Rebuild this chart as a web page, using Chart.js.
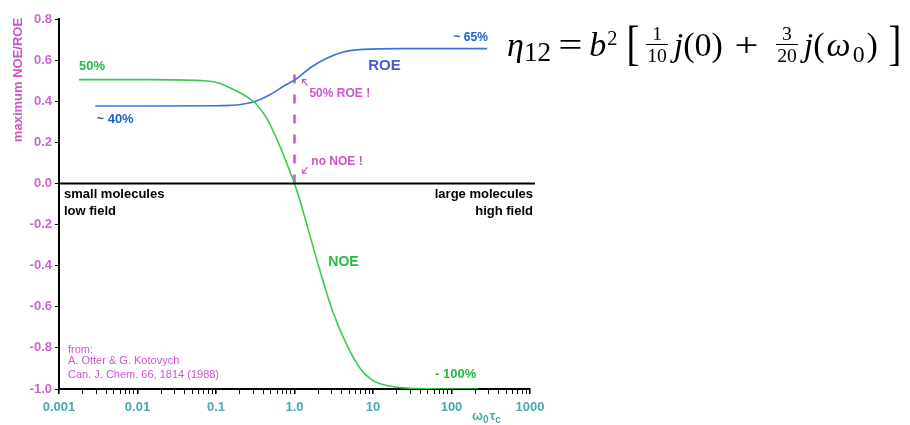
<!DOCTYPE html>
<html>
<head>
<meta charset="utf-8">
<script src="https://cdn.jsdelivr.net/npm/chart.js@4.4.1/dist/chart.umd.min.js"></script>
<style>
  html, body { margin: 0; padding: 0; background: #fff; }
  #wrap { position: relative; width: 910px; height: 425px; overflow: hidden; }
  #c { position: absolute; left: 0; top: 0; }
  #eq {
    position: absolute; left: 507px; top: 16px;
    font-family: "Liberation Serif", "DejaVu Serif", serif;
    font-size: 34px; color: #000; white-space: nowrap; line-height: 1;
  }
  #eq span { display: inline-block; }
  #eq .it { font-style: italic; }
  #eq .lo { font-size: 0.8em; position: relative; top: 0.18em; }
  #eq .sup { font-size: 0.6em; position: relative; top: -0.55em; margin-left: 1px; margin-right: 0.35em; }
  #eq .op { margin: 0 0.28em; transform: scaleX(1.25); }
  #eq .op.m { margin: 0 0.42em; }
  #eq .br { font-size: 1.42em; position: relative; top: 0.06em; transform: scaleX(0.8); }
  #eq .br.r { margin-left: 0.2em; }
  #eq .frac { vertical-align: middle; text-align: center; font-size: 0.58em; margin: 0 0.3em 0 0.28em; position: relative; top: -0.2em; }
  #eq .frac span { display: block; padding: 0 1px; line-height: 1.05; }
  #eq .frac .num { border-bottom: 1px solid #000; }
  #eq .sm { font-size: 0.7em; position: relative; top: 0.25em; margin-right: 0.08em; }
  #eq .w { margin: 0 0.06em; }
</style>
</head>
<body>
<div id="wrap">
  <canvas id="c" width="910" height="425"></canvas>
  <div id="eq"><span class="it">η</span><span class="lo">12</span><span class="op">=</span><span class="it">b</span><span class="sup">2</span><span class="br">[</span><span class="frac"><span class="num">1</span><span>10</span></span><span class="it">j</span>(0)<span class="op m">+</span><span class="frac"><span class="num">3</span><span>20</span></span><span class="it">j</span>(<span class="it w">ω</span><span class="sm">0</span>)<span class="br r">]</span></div>
</div>
<script>
// NOE curve (ω0·τc, maximum enhancement)
const noeX = [0.0018, 0.015, 0.064, 0.105, 0.167, 0.252, 0.319, 0.453, 0.662, 0.813, 1.0, 1.19, 1.46, 2.13, 3.12, 4.70, 6.87, 9.2, 12.3, 19.1, 39.8, 100, 215];
const noeY = [0.505, 0.505, 0.500, 0.490, 0.457, 0.420, 0.390, 0.310, 0.175, 0.090, 0.0, -0.090, -0.210, -0.430, -0.630, -0.790, -0.900, -0.950, -0.975, -0.990, -0.998, -1.0, -1.0];

// ROE curve
const roeX = [0.0029, 0.02, 0.1, 0.15, 0.206, 0.319, 0.494, 0.723, 1.03, 1.59, 2.62, 4.18, 7.5, 22, 80, 285];
const roeY = [0.377, 0.377, 0.378, 0.380, 0.384, 0.400, 0.433, 0.473, 0.506, 0.563, 0.610, 0.639, 0.652, 0.656, 0.656, 0.656];

// marker at ω0·τc = 1
const markX = [1, 1];
const markY = [0, 0.57];

// axis labels
const xTickValues = [0.001, 0.01, 0.1, 1, 10, 100, 1000];
const xTickLabels = ["0.001", "0.01", "0.1", "1.0", "10", "100", "1000"];
const yTickValues = [-1.0, -0.8, -0.6, -0.4, -0.2, 0.0, 0.2, 0.4, 0.6, 0.8];
const yTickLabels = ["-1.0", "-0.8", "-0.6", "-0.4", "-0.2", "0.0", "0.2", "0.4", "0.6", "0.8"];

const MAGENTA = '#cc55cc';
const GREEN = '#3ec850';
const BLUE = '#3f72dc';
const TEAL = '#4aa9ab';
const SANS = '"Liberation Sans", Arial, sans-serif';

const pts = (xs, ys) => xs.map((x, i) => ({ x, y: ys[i] }));

const annotate = {
  id: 'annotate',
  afterDatasetsDraw(chart) {
    const { ctx, chartArea: a, scales: { x, y } } = chart;
    const X = v => x.getPixelForValue(v);
    const Y = v => y.getPixelForValue(v);
    ctx.save();

    // zero line
    ctx.strokeStyle = '#000';
    ctx.lineWidth = 2;
    ctx.beginPath();
    ctx.moveTo(a.left, Y(0));
    ctx.lineTo(a.right + 5, Y(0));
    ctx.stroke();

    const text = (s, px, py, color, font, align) => {
      ctx.fillStyle = color;
      ctx.font = font;
      ctx.textAlign = align || 'left';
      ctx.textBaseline = 'middle';
      ctx.fillText(s, px, py);
    };

    text('50%', X(0.0018), Y(0.57), '#22bb44', 'bold 13px ' + SANS);
    text('~ 40%', X(0.003), Y(0.31), '#1a5fd0', 'bold 13px ' + SANS);
    text('~ 65%', X(290), Y(0.71), '#1a5fd0', 'bold 12px ' + SANS, 'right');
    text('ROE', X(8.7), Y(0.574), '#4a5ad0', 'bold 15px ' + SANS);
    text('50% ROE !', X(1.55), Y(0.438), MAGENTA, 'bold 12px ' + SANS);
    text('no NOE !', X(1.64), Y(0.107), MAGENTA, 'bold 12px ' + SANS);
    text('NOE', X(2.7), Y(-0.385), '#22bb44', 'bold 14px ' + SANS);
    text('- 100%', X(61.7), Y(-0.93), '#22bb44', 'bold 13px ' + SANS);

    text('small molecules', a.left + 5, Y(-0.054), '#000', 'bold 13px ' + SANS);
    text('low field', a.left + 5, Y(-0.136), '#000', 'bold 13px ' + SANS);
    text('large molecules', a.right + 3, Y(-0.054), '#000', 'bold 13px ' + SANS, 'right');
    text('high field', a.right + 3, Y(-0.136), '#000', 'bold 13px ' + SANS, 'right');

    text('from:', a.left + 9, Y(-0.808), MAGENTA, '11px ' + SANS);
    text('A. Otter & G. Kotovych', a.left + 9, Y(-0.866), MAGENTA, '11px ' + SANS);
    text('Can. J. Chem. 66, 1814 (1988)', a.left + 9, Y(-0.93), MAGENTA, '11px ' + SANS);

    // small arrows pointing at the marker line
    ctx.strokeStyle = MAGENTA;
    ctx.lineWidth = 1.2;
    const mx = X(1) + 8;
    let ty = Y(0.505);
    ctx.beginPath();
    ctx.moveTo(mx + 5, ty + 6); ctx.lineTo(mx, ty);
    ctx.moveTo(mx, ty + 4); ctx.lineTo(mx, ty); ctx.lineTo(mx + 4, ty);
    ctx.stroke();
    ty = Y(0.05);
    ctx.beginPath();
    ctx.moveTo(mx + 5, ty - 6); ctx.lineTo(mx, ty);
    ctx.moveTo(mx, ty - 4); ctx.lineTo(mx, ty); ctx.lineTo(mx + 4, ty);
    ctx.stroke();

    // y title
    ctx.save();
    ctx.translate(18, 80);
    ctx.rotate(-Math.PI / 2);
    text('maximum NOE/ROE', 0, 0, MAGENTA, 'bold 13px ' + SANS, 'center');
    ctx.restore();

    // x title: ω0 τc
    ctx.fillStyle = TEAL;
    ctx.textAlign = 'left';
    ctx.textBaseline = 'alphabetic';
    let cx = a.right - 58;
    const by = 420;
    ctx.font = 'bold 13px ' + SANS;
    ctx.fillText('ω', cx, by); cx += ctx.measureText('ω').width;
    ctx.font = 'bold 10px ' + SANS;
    ctx.fillText('0', cx, by + 3); cx += ctx.measureText('0').width + 1;
    ctx.font = 'bold 13px ' + SANS;
    ctx.fillText('τ', cx, by); cx += ctx.measureText('τ').width;
    ctx.font = 'bold 10px ' + SANS;
    ctx.fillText('c', cx, by + 3);

    ctx.restore();
  }
};

// tick positions for the log axis: 1..9 × each decade
const logTicks = [];
for (let e = -3; e <= 3; e++) {
  for (let m = 1; m <= 9; m++) {
    const v = +(m * Math.pow(10, e)).toPrecision(3);
    if (v <= 1000) logTicks.push(v);
  }
}
const isMajor = v => xTickValues.some(t => Math.abs(t - v) / t < 1e-6);

new Chart(document.getElementById('c'), {
  type: 'line',
  data: {
    datasets: [
      { label: 'NOE', data: pts(noeX, noeY), borderColor: GREEN, borderWidth: 1.6, pointRadius: 0, cubicInterpolationMode: 'monotone', fill: false },
      { label: 'ROE', data: pts(roeX, roeY), borderColor: BLUE, borderWidth: 1.6, pointRadius: 0, cubicInterpolationMode: 'monotone', fill: false },
      { label: 'marker', data: pts(markX, markY), borderColor: MAGENTA, borderWidth: 2.5, borderDash: [9, 11], pointRadius: 0, fill: false }
    ]
  },
  options: {
    responsive: false,
    animation: false,
    devicePixelRatio: 1,
    layout: { padding: { left: 0, top: 19, right: 380, bottom: 0 } },
    plugins: { legend: { display: false }, tooltip: { enabled: false } },
    scales: {
      x: {
        type: 'logarithmic',
        min: 0.001, max: 1000,
        afterBuildTicks: s => { s.ticks = logTicks.map(v => ({ value: v, major: isMajor(v) })); },
        afterFit: s => { s.height = 36; },
        border: { display: true, color: '#000', width: 2 },
        grid: {
          drawOnChartArea: false, drawTicks: true, tickLength: 5, color: '#000',
          lineWidth: c => (c.tick && isMajor(c.tick.value)) ? 1.6 : 1
        },
        ticks: {
          autoSkip: false, maxRotation: 0, padding: 6,
          color: TEAL, font: { family: SANS, size: 13, weight: 'bold' },
          callback: v => { const i = xTickValues.findIndex(t => Math.abs(t - v) / t < 1e-6); return i >= 0 ? xTickLabels[i] : ''; }
        }
      },
      y: {
        min: -1.0, max: 0.8,
        afterBuildTicks: s => { s.ticks = yTickValues.map(v => ({ value: v })); },
        afterFit: s => { s.width = 59; },
        border: { display: true, color: '#000', width: 2 },
        grid: { drawOnChartArea: false, drawTicks: true, tickLength: 4, color: '#000' },
        ticks: {
          padding: 3,
          color: '#cc66cc', font: { family: SANS, size: 13, weight: 'bold' },
          callback: v => { const i = yTickValues.findIndex(t => Math.abs(t - v) < 1e-6); return i >= 0 ? yTickLabels[i] : ''; }
        }
      }
    }
  },
  plugins: [annotate]
});
</script>
</body>
</html>
